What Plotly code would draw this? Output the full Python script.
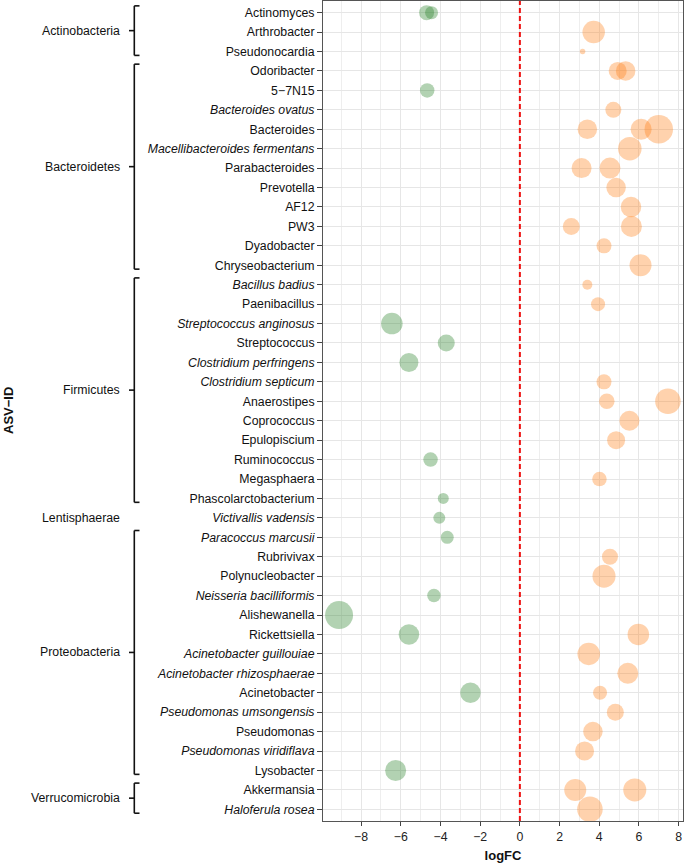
import plotly.graph_objects as go

# rows of the y axis, top to bottom
asv_labels = [
    "Actinomyces", "Arthrobacter", "Pseudonocardia",
    "Odoribacter", "5−7N15", "Bacteroides ovatus", "Bacteroides",
    "Macellibacteroides fermentans", "Parabacteroides", "Prevotella", "AF12",
    "PW3", "Dyadobacter", "Chryseobacterium",
    "Bacillus badius", "Paenibacillus", "Streptococcus anginosus", "Streptococcus",
    "Clostridium perfringens", "Clostridium septicum", "Anaerostipes", "Coprococcus",
    "Epulopiscium", "Ruminococcus", "Megasphaera", "Phascolarctobacterium",
    "Victivallis vadensis",
    "Paracoccus marcusii", "Rubrivivax", "Polynucleobacter", "Neisseria bacilliformis",
    "Alishewanella", "Rickettsiella", "Acinetobacter guillouiae",
    "Acinetobacter rhizosphaerae", "Acinetobacter", "Pseudomonas umsongensis",
    "Pseudomonas", "Pseudomonas viridiflava", "Lysobacter",
    "Akkermansia", "Haloferula rosea",
]

phyla = ["Actinobacteria", "Bacteroidetes", "Firmicutes", "Lentisphaerae",
         "Proteobacteria", "Verrucomicrobia"]
phylum_counts = [3, 11, 12, 1, 13, 2]

# points
point_asv = [
    "Actinomyces", "Actinomyces", "Arthrobacter", "Pseudonocardia",
    "Odoribacter", "Odoribacter", "5−7N15", "Bacteroides ovatus",
    "Bacteroides", "Bacteroides", "Bacteroides", "Macellibacteroides fermentans",
    "Parabacteroides", "Parabacteroides", "Prevotella", "AF12", "PW3", "PW3",
    "Dyadobacter", "Chryseobacterium", "Bacillus badius", "Paenibacillus",
    "Streptococcus anginosus", "Streptococcus", "Clostridium perfringens",
    "Clostridium septicum", "Anaerostipes", "Anaerostipes", "Coprococcus",
    "Epulopiscium", "Ruminococcus", "Megasphaera", "Phascolarctobacterium",
    "Victivallis vadensis", "Paracoccus marcusii", "Rubrivivax", "Polynucleobacter",
    "Neisseria bacilliformis", "Alishewanella", "Rickettsiella", "Rickettsiella",
    "Acinetobacter guillouiae", "Acinetobacter rhizosphaerae", "Acinetobacter",
    "Acinetobacter", "Pseudomonas umsongensis", "Pseudomonas",
    "Pseudomonas viridiflava", "Lysobacter", "Akkermansia", "Akkermansia",
    "Haloferula rosea",
]
point_logfc = [
    -4.70, -4.45, 3.72, 3.16,
    4.93, 5.33, -4.67, 4.71,
    3.40, 6.11, 7.00, 5.54,
    3.11, 4.54, 4.85, 5.60, 2.59, 5.62,
    4.24, 6.08, 3.40, 3.94,
    -6.45, -3.71, -5.59,
    4.24, 4.38, 7.46, 5.52,
    4.85, -4.50, 4.01, -3.86,
    -4.06, -3.66, 4.54, 4.24,
    -4.33, -9.11, -5.59, 5.97,
    3.47, 5.44, -2.49,
    4.04, 4.81, 3.68,
    3.26, -6.26, 2.79, 5.79,
    3.53,
]
point_size = [
    15, 13, 22.5, 5.5,
    18, 19.5, 14.5, 16,
    19.5, 21, 28.5, 23.5,
    20, 21, 19.5, 20.5, 17, 21,
    15, 22, 10, 14,
    21.5, 17, 19,
    15, 15.5, 25.5, 20,
    18, 14.5, 14.5, 11,
    12, 13, 16, 23,
    13.5, 28, 20.5, 21.5,
    22.5, 21, 20.5,
    14, 17, 19.5,
    19, 21, 22, 23,
    25.5,
]

# species names in italics
display = ["<i>%s</i>" % a if " " in a else a for a in asv_labels]
lookup = dict(zip(asv_labels, display))

FONT = "Liberation Sans, Arial, sans-serif"
GREEN = "rgba(34,125,34,0.5)"
ORANGE = "rgba(255,127,20,0.5)"
N = len(asv_labels)
Y_LO, Y_HI = -0.6, N - 0.4   # y range (reversed)

fig = go.Figure()
fig.add_trace(go.Scatter(
    x=point_logfc,
    y=[lookup[a] for a in point_asv],
    mode="markers",
    marker=dict(size=point_size,
                color=[GREEN if v < 0 else ORANGE for v in point_logfc],
                line=dict(width=0)),
    showlegend=False,
    cliponaxis=False,
))


# plot area is 360px wide starting at 323px
def px(xpix):
    return (xpix - 323) / 360.0


def row_paper(r):
    return 1 - (r - Y_LO) / (Y_HI - Y_LO)


shapes = [dict(type="line", xref="x", yref="paper", x0=0, x1=0, y0=0, y1=1,
               line=dict(color="#ee1111", width=2, dash="5px,3px"))]
annotations = []
start = 0
for name, n in zip(phyla, phylum_counts):
    first, last = start, start + n - 1
    start += n
    lab = dict(x=px(122), xref="paper", yref="paper", text=name, showarrow=False,
               xanchor="right", yanchor="middle",
               font=dict(size=12.3, color="#111", family=FONT))
    if n == 1:
        lab["y"] = row_paper(first)
        annotations.append(lab)
        continue
    y0, y1 = row_paper(first - 0.35), row_paper(last + 0.2)
    ym = (y0 + y1) / 2
    line = dict(color="#111", width=1.6)
    for xa, xb, ya, yb in [(134.3, 134.3, y0, y1), (134.3, 139.5, y0, y0),
                           (134.3, 139.5, y1, y1), (129, 134.3, ym, ym)]:
        shapes.append(dict(type="line", xref="paper", yref="paper",
                           x0=px(xa), x1=px(xb), y0=ya, y1=yb, line=line))
    lab["y"] = ym
    annotations.append(lab)

annotations.append(dict(x=px(8), y=0.5, xref="paper", yref="paper",
                        xanchor="center", yanchor="middle",
                        text="<b>ASV−ID</b>", textangle=-90, showarrow=False,
                        font=dict(size=13, color="#111", family=FONT)))

fig.update_layout(
    width=685, height=865,
    margin=dict(l=323, r=2, t=1, b=44),
    plot_bgcolor="white", paper_bgcolor="white",
    font=dict(family=FONT, size=12.3, color="#111"),
    shapes=shapes,
    annotations=annotations,
)
fig.update_xaxes(
    range=[-9.92, 8.22], dtick=2, tick0=0,
    showgrid=True, gridcolor="#e6e6e6", gridwidth=1.2,
    minor=dict(dtick=1, tick0=0, showgrid=True, gridcolor="#eeeeee", gridwidth=0.8),
    zeroline=False,
    showline=True, linecolor="#555", linewidth=1, mirror=True,
    ticks="outside", ticklen=4, tickcolor="#444",
    tickfont=dict(size=12.3, color="#222"),
    title=dict(text="<b>logFC</b>", font=dict(size=13, color="#111"), standoff=8),
)
fig.update_yaxes(
    type="category", categoryorder="array", categoryarray=display,
    range=[Y_HI, Y_LO],
    showgrid=True, gridcolor="#e6e6e6", gridwidth=1.2,
    zeroline=False,
    showline=True, linecolor="#555", linewidth=1, mirror=True,
    ticks="outside", ticklen=5, tickcolor="#444",
    tickfont=dict(size=12.3, color="#111"),
)

fig.write_html("out.html", config={"displayModeBar": False},
               post_script="document.body.style.margin='0';")
